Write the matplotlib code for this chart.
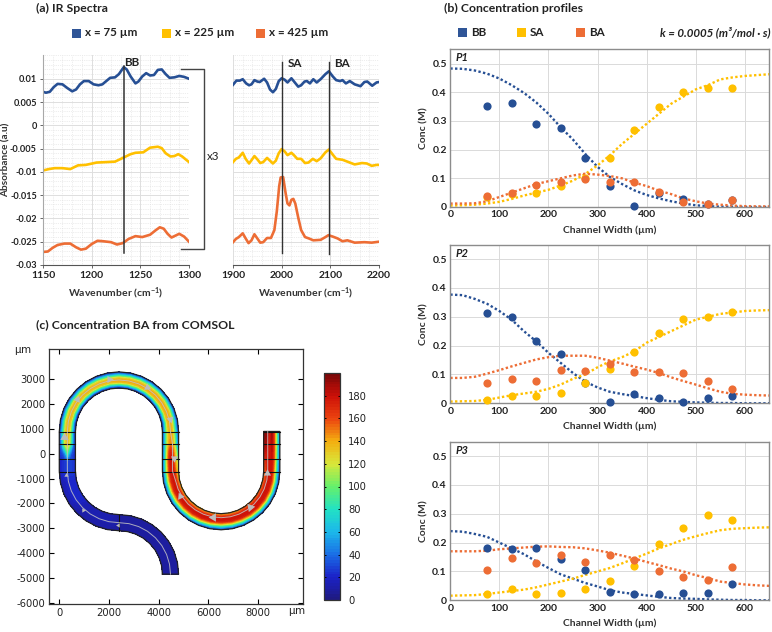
import numpy as np
import matplotlib
matplotlib.use("Agg")
import matplotlib.pyplot as plt
from matplotlib.lines import Line2D
from matplotlib.patches import Rectangle
from matplotlib.colors import LinearSegmentedColormap

plt.rcParams['font.family'] = ['Lato', 'DejaVu Sans']
plt.rcParams['mathtext.default'] = 'regular'

# ----------------------------------------------------------------
# (a) IR spectra
# ----------------------------------------------------------------
ir_l_blue_x = [1150,1153,1157,1161,1165,1170,1175,1180,1184,1188,1192,1197,1202,1207,1211,1215,1219,1224,1228,1233,1236,1240,1245,1248,1252,1256,1260,1264,1268,1272,1276,1280,1285,1290,1295,1300]
ir_l_blue_y = [.0072,.007,.0072,.0082,.0089,.0088,.008,.0073,.0077,.0088,.0095,.0095,.0088,.0086,.0088,.0095,.0102,.0103,.011,.0125,.012,.0105,.009,.0094,.0105,.0112,.0107,.0108,.0119,.012,.011,.0102,.0103,.0106,.0104,.01]
ir_l_yellow_x = [1150,1156,1162,1170,1178,1186,1194,1205,1215,1224,1232,1240,1245,1253,1260,1268,1272,1276,1281,1285,1289,1293,1300]
ir_l_yellow_y = [-.0097,-.0094,-.0092,-.0092,-.0094,-.0086,-.0085,-.008,-.0079,-.0078,-.007,-.0062,-.0059,-.0058,-.0048,-.0046,-.0049,-.006,-.0067,-.0066,-.0062,-.0067,-.0079]
ir_l_orange_x = [1150,1155,1160,1165,1172,1178,1184,1189,1194,1200,1206,1212,1220,1226,1232,1238,1245,1252,1260,1266,1270,1274,1278,1282,1287,1290,1295,1300]
ir_l_orange_y = [-.0272,-.0271,-.0263,-.0257,-.0254,-.0254,-.0262,-.0267,-.0265,-.0255,-.0248,-.0249,-.0251,-.0256,-.0253,-.0244,-.0238,-.024,-.0235,-.0225,-.0219,-.0222,-.0233,-.0241,-.0236,-.0233,-.0239,-.025]

ir_r_blue_x = [1900,1907,1914,1920,1927,1933,1938,1944,1950,1955,1964,1970,1976,1982,1988,1994,2000,2006,2012,2020,2027,2034,2040,2047,2052,2058,2065,2072,2080,2090,2097,2105,2112,2120,2125,2132,2140,2150,2162,2170,2176,2186,2195,2200]
ir_r_blue_y = [.0087,.0096,.0096,.0099,.009,.0086,.0088,.0097,.0094,.0093,.01,.0092,.0077,.0071,.0078,.0095,.0101,.0098,.0092,.0101,.0092,.0083,.0086,.0094,.0095,.009,.0099,.0092,.0099,.011,.0116,.0105,.0097,.0095,.0097,.009,.0095,.0088,.0084,.0093,.0094,.0085,.0092,.0093]
ir_r_yellow_x = [1900,1906,1912,1920,1926,1933,1938,1944,1950,1956,1962,1970,1976,1982,1988,1994,2000,2006,2012,2020,2026,2032,2040,2048,2055,2064,2072,2080,2090,2097,2105,2112,2125,2135,2150,2165,2175,2185,2195,2200]
ir_r_yellow_y = [-.0079,-.0072,-.0069,-.0059,-.0072,-.0082,-.0075,-.0066,-.0073,-.0081,-.0079,-.007,-.0076,-.0082,-.0076,-.006,-.0051,-.0056,-.0064,-.0059,-.0065,-.0072,-.0072,-.0081,-.008,-.0072,-.0077,-.0071,-.0058,-.0052,-.0063,-.0072,-.0074,-.0078,-.0084,-.0081,-.0082,-.0087,-.0085,-.0085]
ir_r_orange_x = [1900,1906,1912,1920,1926,1932,1938,1944,1950,1956,1962,1970,1978,1985,1990,1995,1998,2003,2008,2012,2016,2020,2024,2028,2034,2040,2048,2056,2065,2080,2090,2096,2105,2115,2125,2135,2150,2170,2185,2200]
ir_r_orange_y = [-.0251,-.0244,-.024,-.0232,-.0243,-.0253,-.0247,-.0234,-.0243,-.0252,-.0251,-.0242,-.0242,-.0225,-.0185,-.013,-.0112,-.0111,-.0145,-.0168,-.0172,-.016,-.0158,-.0168,-.0198,-.0225,-.024,-.0243,-.0247,-.0246,-.024,-.0236,-.0239,-.0243,-.0249,-.0247,-.0252,-.0251,-.0252,-.025]

ir_legend = ['x = 75 µm', 'x = 225 µm', 'x = 425 µm']
ir_yticks = [0.01, 0.005, 0, -0.005, -0.01, -0.015, -0.02, -0.025, -0.03]
ir_ylabels = ['0.01', '0.005', '0', '-0.005', '-0.01', '-0.015', '-0.02', '-0.025', '-0.03']

# ----------------------------------------------------------------
# (b) concentration profiles
# ----------------------------------------------------------------
point_x = [75,125,175,225,275,325,375,425,475,525,575]
fit_x = [0,25,50,75,100,125,150,175,200,225,250,275,300,325,350,375,400,425,450,475,500,525,550,575,600,625,650]

p1_bb = [.353,.363,.29,.277,.172,.072,.004,.048,.027,.010,.024]
p1_sa = [.035,.045,.05,.072,.10,.171,.268,.35,.401,.416,.416]
p1_ba = [.038,.048,.078,.088,.096,.086,.086,.051,.018,.012,.024]
p1_bb_fit = [.483,.482,.476,.465,.448,.425,.398,.365,.325,.278,.235,.185,.14,.105,.08,.058,.042,.03,.02,.012,.006,.003,.001,.001,0,0,0]
p1_sa_fit = [.005,.006,.008,.012,.018,.028,.04,.05,.06,.075,.092,.115,.145,.18,.22,.255,.29,.325,.36,.385,.41,.425,.445,.452,.457,.46,.463]
p1_ba_fit = [.012,.012,.013,.02,.035,.05,.065,.08,.09,.1,.11,.116,.113,.108,.1,.085,.073,.057,.045,.03,.02,.012,.008,.005,.003,.002,.002]

p2_bb = [.313,.30,.216,.17,.07,.003,.031,.018,.005,.02,.027]
p2_sa = [.01,.027,.025,.037,.07,.12,.177,.243,.294,.30,.316]
p2_ba = [.069,.086,.078,.114,.111,.135,.107,.108,.105,.078,.05]
p2_bb_fit = [.377,.375,.362,.345,.32,.29,.25,.215,.175,.14,.105,.075,.055,.04,.032,.025,.018,.012,.007,.005,.003,.002,.001,.001,0,0,0]
p2_sa_fit = [.006,.007,.008,.012,.02,.028,.034,.04,.05,.065,.085,.1,.125,.145,.16,.18,.21,.23,.25,.27,.29,.30,.31,.315,.32,.322,.323]
p2_ba_fit = [.088,.088,.092,.103,.115,.128,.14,.152,.16,.165,.165,.165,.158,.148,.138,.127,.117,.105,.09,.077,.065,.052,.04,.033,.03,.028,.027]

p3_bb = [.18,.178,.183,.143,.105,.03,.023,.023,.025,.026,.055]
p3_sa = [.023,.04,.022,.025,.039,.068,.12,.196,.25,.295,.28]
p3_ba = [.105,.147,.13,.156,.133,.158,.14,.103,.081,.071,.115]
p3_bb_fit = [.24,.238,.23,.22,.2,.18,.16,.135,.112,.09,.075,.06,.048,.035,.027,.022,.017,.012,.008,.006,.005,.003,.002,.001,.001,0,0]
p3_sa_fit = [.016,.017,.018,.022,.027,.032,.037,.045,.055,.065,.075,.088,.1,.112,.128,.145,.162,.18,.195,.21,.222,.233,.243,.248,.25,.252,.253]
p3_ba_fit = [.17,.17,.17,.172,.177,.18,.183,.186,.187,.185,.184,.18,.173,.165,.155,.145,.133,.122,.11,.1,.087,.077,.065,.06,.055,.052,.05]

profile_names = ['P1', 'P2', 'P3']
profile_legend = ['BB', 'SA', 'BA']

# ----------------------------------------------------------------
# (c) BA field: one row per group of stations along the channel,
# columns go across the channel from the left of the flow to the right
# ----------------------------------------------------------------
ba_rows = [
    [8,8,9,9,9,9,9,8,8],
    [9,10,11,12,13,13,14,15,15],
    [12,14,16,18,20,22,22,22,20],
    [16,20,24,26,28,28,28,26,22],
    [22,26,32,50,90,50,32,26,20],
    [24,45,90,125,136,118,80,38,16],
    [22,44,88,125,138,126,88,40,14],
    [22,42,85,125,138,130,90,40,14],
    [24,46,90,128,142,134,95,44,18],
    [26,50,95,130,142,132,100,50,24],
    [32,65,115,138,148,135,100,52,28],
    [50,100,135,160,172,150,105,55,30],
    [80,125,150,172,180,158,112,60,32],
    [120,138,165,178,175,150,105,58,30],
    [135,150,172,178,170,140,95,50,28],
    [140,152,174,180,172,140,92,48,26],
    [150,158,174,180,175,145,96,50,28],
    [165,170,175,180,180,160,112,62,32],
    [185,190,180,172,185,165,120,68,34],
    [192,196,188,168,192,165,120,70,35],
]
ba_repeat = [9,4,3,2,1,1,1,7,8,1,1,1,1,1,5,5,6,1,1,1]
ba_ticks = [0,20,40,60,80,100,120,140,160,180]
ba_cmap_colors = ['#1f1a80','#1b22c8','#1a6ee6','#1cb8ea','#22e2c4','#66f06a','#d8e83a','#f4ae10','#ec4410','#cc1008','#780808']

arrow_x = [200,700,2000,3510,4450,4600,4850,6190,7670,8360,255,950,2370]
arrow_y = [690,2190,3000,2700,1410,-185,-1690,-2560,-2160,-760,-845,-2270,-2870]
arrow_angle = [0,-25,-90,-115,-165,180,145,90,40,0,0,30,90]
arrow_size = [7,6,6,6,6,6,6,7,7,6,3.5,3.5,3.5]

# ----------------------------------------------------------------
C_BLUE = '#2f5597'
C_BLUE2 = '#264f94'
C_YELLOW = '#ffc000'
C_ORANGE = '#ed6d35'
TXT = '#222222'
W, H = 772.0, 632.0


def add_ax(l, t, r, b):
    return fig.add_axes([l/W, 1-b/H, (r-l)/W, (b-t)/H])


def put(x, y, s, **kw):
    kw.setdefault('color', TXT)
    kw.setdefault('va', 'center')
    fig.text(x/W, 1-y/H, s, **kw)


def swatch(x, y, color, size=9):
    fig.add_artist(Rectangle(((x-size/2)/W, 1-(y+size/2)/H), size/W, size/H,
                             transform=fig.transFigure, color=color, lw=0))


def arc(cx, cy, r, a0, a1, n):
    a = np.radians(np.linspace(a0, a1, n+1))
    d = np.sign(a1-a0)
    return cx + r*np.cos(a), cy + r*np.sin(a), -d*np.sin(a), d*np.cos(a)


def straight(x, ys):
    ys = np.array(ys, dtype=float)
    d = np.sign(ys[-1]-ys[0])
    return np.full(len(ys), x), ys, np.zeros(len(ys)), np.full(len(ys), d)


fig = plt.figure(figsize=(7.72, 6.32), dpi=100)

# ---------------------------------------------------
# (a)
put(36, 8, '(a) IR Spectra', fontsize=8.8, fontweight='bold')
for lx, lab, c in zip([76, 166, 260], ir_legend, [C_BLUE, C_YELLOW, C_ORANGE]):
    swatch(lx, 33, c)
    put(lx+9, 33, lab, fontsize=8.4, fontweight='bold')

ax_l = add_ax(43, 55, 189, 265)
ax_r = add_ax(233, 55, 379, 265)
for ax in (ax_l, ax_r):
    ax.set_ylim(-0.03, 0.0151)
    ax.set_yticks(ir_yticks)
    ax.set_yticks(np.arange(-0.03, 0.0151, 0.001), minor=True)
    ax.grid(True, which='major', color='#dedede', lw=0.7)
    ax.grid(True, which='minor', color='#dcdcdc', lw=0.5, ls=':')
    ax.set_axisbelow(True)
    ax.spines['top'].set_visible(False)
    ax.spines['right'].set_visible(False)
    ax.spines['left'].set_color('#a8a8a8')
    ax.spines['bottom'].set_color('#555555')
    ax.tick_params(which='major', length=2.5, width=0.7, color='#666666', labelsize=7.5, pad=2, labelcolor=TXT)
    ax.tick_params(axis='y', labelsize=6.6)
    ax.tick_params(which='minor', length=0)
    ax.set_xlabel('Wavenumber (cm$^{-1}$)', fontsize=7.5, fontweight='bold', color='#333333', labelpad=4)

ax_l.set_xlim(1150, 1300)
ax_l.set_xticks([1150, 1200, 1250, 1300])
ax_l.set_xticklabels(['1150', '1200', '1250', '1300'], fontweight='bold')
ax_l.set_xticks(np.arange(1150, 1301, 10), minor=True)
ax_l.set_yticklabels(ir_ylabels, fontweight='bold')
put(6, 160, 'Absorbance (a.u)', fontsize=7.2, fontweight='bold', color='#333333', rotation=90, ha='center')
ax_l.plot(ir_l_blue_x, ir_l_blue_y, color=C_BLUE2, lw=1.9, solid_joinstyle='round')
ax_l.plot(ir_l_yellow_x, ir_l_yellow_y, color=C_YELLOW, lw=1.9, solid_joinstyle='round')
ax_l.plot(ir_l_orange_x, ir_l_orange_y, color=C_ORANGE, lw=1.9, solid_joinstyle='round')
ax_l.plot([1233, 1233], [-0.0275, 0.0128], color='#333333', lw=1.1)
ax_l.text(1241, 0.0134, 'BB', fontsize=8.4, fontweight='bold', color=TXT, ha='center', va='center')

ax_r.set_xlim(1900, 2200)
ax_r.set_xticks([1900, 2000, 2100, 2200])
ax_r.set_xticklabels(['1900', '2000', '2100', '2200'], fontweight='bold')
ax_r.set_xticks(np.arange(1900, 2201, 20), minor=True)
ax_r.spines['left'].set_visible(False)
ax_r.tick_params(axis='y', which='both', left=False, labelleft=False)
ax_r.plot(ir_r_blue_x, ir_r_blue_y, color=C_BLUE2, lw=1.9, solid_joinstyle='round')
ax_r.plot(ir_r_yellow_x, ir_r_yellow_y, color=C_YELLOW, lw=1.9, solid_joinstyle='round')
ax_r.plot(ir_r_orange_x, ir_r_orange_y, color=C_ORANGE, lw=1.9, solid_joinstyle='round')
ax_r.plot([2000, 2000], [-0.0275, 0.0135], color='#333333', lw=1.0)
ax_r.plot([2098, 2098], [-0.0277, 0.0135], color='#333333', lw=1.0)
ax_r.text(2027, 0.0132, 'SA', fontsize=8.4, fontweight='bold', color=TXT, ha='center', va='center')
ax_r.text(2124, 0.0132, 'BA', fontsize=8.4, fontweight='bold', color=TXT, ha='center', va='center')

# bracket
fig.add_artist(Line2D(np.array([181, 204, 204, 181])/W, 1-np.array([69, 69, 249, 249])/H,
                      color='#444444', lw=1.0))
put(213, 156, 'x3', fontsize=8.4, ha='center')

# ---------------------------------------------------
# (b)
put(444, 8, '(b) Concentration profiles', fontsize=8.8, fontweight='bold')
for lx, lab, c in zip([462, 521, 580], profile_legend, [C_BLUE, C_YELLOW, C_ORANGE]):
    swatch(lx, 32, c)
    put(lx+9, 33, lab, fontsize=8.4, fontweight='bold')
put(770, 32, 'k = 0.0005 (m³/mol · s)', fontsize=8.3, fontweight='bold', style='italic', ha='right')

profile_boxes = [(49.3, 207), (244.7, 403.3), (441.7, 600.3)]
profile_points = [(p1_bb, p1_sa, p1_ba), (p2_bb, p2_sa, p2_ba), (p3_bb, p3_sa, p3_ba)]
profile_fits = [(p1_bb_fit, p1_sa_fit, p1_ba_fit), (p2_bb_fit, p2_sa_fit, p2_ba_fit), (p3_bb_fit, p3_sa_fit, p3_ba_fit)]

for name, (top, bot), pts, fits in zip(profile_names, profile_boxes, profile_points, profile_fits):
    ax = add_ax(450.3, top, 769.3, bot)
    for yv, c in zip(fits, [C_BLUE2, C_YELLOW, C_ORANGE]):
        ax.plot(fit_x, yv, color=c, lw=1.7, ls=(0, (1, 1)), zorder=2)
    for yv, c in zip(pts, [C_BLUE2, C_YELLOW, C_ORANGE]):
        ax.plot(point_x, yv, 'o', color=c, ms=5.9, mew=0, zorder=3, clip_on=False)
    ax.set_xlim(0, 650)
    ax.set_ylim(0, 0.55)
    ax.set_xticks([0, 100, 200, 300, 400, 500, 600])
    ax.set_xticklabels(['0', '100', '200', '300', '400', '500', '600'], fontweight='bold')
    ax.set_yticks([0, 0.1, 0.2, 0.3, 0.4, 0.5])
    ax.set_yticklabels(['0', '0.1', '0.2', '0.3', '0.4', '0.5'], fontweight='bold')
    ax.grid(True, color='#dadada', lw=0.7)
    ax.set_axisbelow(True)
    ax.tick_params(length=0, labelsize=7.5, pad=2.5, labelcolor=TXT)
    for s in ax.spines.values():
        s.set_color('#8c8c8c')
        s.set_linewidth(1.0)
    ax.set_xlabel('Channel Width (µm)', fontsize=7.5, fontweight='bold', color='#333333', labelpad=4)
    ax.set_ylabel('Conc (M)', fontsize=7.5, fontweight='bold', color='#333333', labelpad=3)
    ax.text(0.016, 0.945, name, transform=ax.transAxes, fontsize=8, fontweight='bold',
            style='italic', color=TXT, ha='left', va='center')

# ---------------------------------------------------
# (c)
put(36, 325, '(c) Concentration BA from COMSOL', fontsize=8.8, fontweight='bold')
ax_c = add_ax(49.3, 349, 303, 604)

# channel centre line, from the bottom outlet round to the top right
half = 325.0
parts = [
    arc(2400, -4850, 2075, 0, 90, 8),
    arc(2400, -700, 2075, 270, 180, 8),
    straight(325.0, [-700, -300, 0, 400, 900]),
    arc(2400, 900, 2075, 180, 0, 16),
    straight(4475.0, [900, 400, 100, -300, -700]),
    arc(6512.5, -700, 2037.5, 180, 360, 16),
    straight(8550.0, [-700, -200, 400, 900]),
]
cx, cy, tx, ty = [np.concatenate([parts[0][k]] + [p[k][1:] for p in parts[1:]]) for k in range(4)]
nx, ny = -ty, tx  # left of the flow

across = np.linspace(1, -1, 9)
X = cx[:, None] + half*nx[:, None]*across
Y = cy[:, None] + half*ny[:, None]*across
Z = np.repeat(np.array(ba_rows, dtype=float), ba_repeat, axis=0)

ba_cmap = LinearSegmentedColormap.from_list('ba', ba_cmap_colors, N=256)
cs = ax_c.contourf(X, Y, Z, levels=np.linspace(0, 200, 81), cmap=ba_cmap, antialiased=False, zorder=1)

# outline and cut lines
ax_c.plot(np.r_[X[:, 0], X[::-1, -1], X[0, 0]], np.r_[Y[:, 0], Y[::-1, -1], Y[0, 0]], color='#222222', lw=0.9, zorder=3)
for yc in [890, 380, -225, -720]:
    for xa, xb in [(0, 650), (4150, 4800), (8225, 8875)]:
        ax_c.plot([xa, xb], [yc, yc], color='#111111', lw=0.8, zorder=3)
ax_c.plot([2400, 2400], [-3100, -2450], color='#111111', lw=0.8, zorder=3)

# stream line, offset towards the inside in the hot part
stream_col = np.repeat([4, 3, 2, 2], [37, 4, 16, 3])
idx = np.arange(len(cx))
ax_c.plot(X[idx, stream_col], Y[idx, stream_col], color='#c4c4c4', lw=0.7, alpha=0.85, zorder=4)
for ax0, ay0, ang, sz in zip(arrow_x, arrow_y, arrow_angle, arrow_size):
    ax_c.plot(ax0, ay0, marker=(3, 0, ang), color='#bcbcbc', ms=sz, mew=0, zorder=5)

ax_c.set_xlim(-402, 9807)
ax_c.set_ylim(-6052, 4222)
ax_c.set_xticks([0, 2000, 4000, 6000, 8000])
ax_c.set_yticks([3000, 2000, 1000, 0, -1000, -2000, -3000, -4000, -5000, -6000])
ax_c.set_yticklabels(['3000', '2000', '1000', '0', '-1000', '-2000', '-3000', '-4000', '-5000', '-6000'])
ax_c.tick_params(direction='in', top=True, right=True, length=3.5, width=0.8, labelsize=7.2, pad=3,
                 labelcolor='#222222', labelfontfamily='DejaVu Sans')
for s in ax_c.spines.values():
    s.set_color('#333333')
    s.set_linewidth(0.9)
put(23, 351, r'$\mu$m', fontsize=7.5, ha='center', family='DejaVu Sans')
put(297, 612, r'$\mu$m', fontsize=7.5, ha='center', family='DejaVu Sans')

cax = add_ax(324, 373, 340, 600)
cb = fig.colorbar(cs, cax=cax, ticks=ba_ticks)
cb.outline.set_edgecolor('#333333')
cb.outline.set_linewidth(0.9)
cax.tick_params(direction='in', left=True, right=True, length=1.5, width=0.7, labelsize=7.2, pad=6,
                labelcolor='#222222', labelfontfamily='DejaVu Sans')

fig.savefig('out.png', dpi=100)
